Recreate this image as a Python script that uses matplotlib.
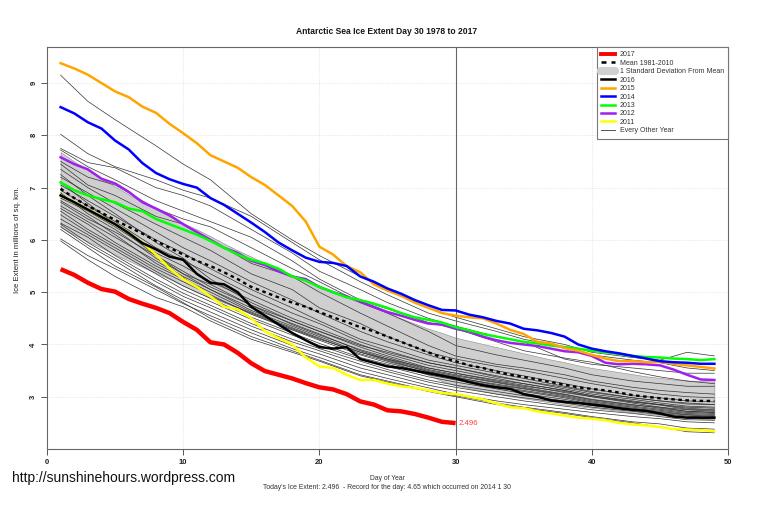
import matplotlib
matplotlib.use("Agg")
import matplotlib.pyplot as plt
from matplotlib.lines import Line2D

plt.rcParams['font.family'] = ['Liberation Sans', 'DejaVu Sans']

title = "Antarctic Sea Ice Extent Day 30 1978 to 2017"
footer = "Today's Ice Extent: 2.496  - Record for the day: 4.65 which occurred on 2014 1 30"
watermark = "http://sunshinehours.wordpress.com"
x_ticks = [0, 10, 20, 30, 40, 50]
y_ticks = [3, 4, 5, 6, 7, 8, 9]

ice_2017 = [5.44, 5.33, 5.18, 5.06, 5.01, 4.87, 4.78, 4.70, 4.60, 4.43, 4.28, 4.04, 4.00, 3.84, 3.64,
            3.49, 3.42, 3.35, 3.26, 3.18, 3.14, 3.05, 2.91, 2.85, 2.74, 2.72, 2.67, 2.60, 2.52, 2.496]
ice_2016 = [6.85, 6.72, 6.58, 6.44, 6.30, 6.13, 5.94, 5.82, 5.68, 5.62, 5.35, 5.18, 5.15, 5.00, 4.72, 4.55, 4.38,
            4.22, 4.08, 3.95, 3.92, 3.95, 3.72, 3.65, 3.58, 3.55, 3.50, 3.45, 3.40, 3.35, 3.28, 3.22, 3.18,
            3.15, 3.05, 3.00, 2.93, 2.90, 2.88, 2.85, 2.82, 2.78, 2.75, 2.73, 2.68, 2.62, 2.60, 2.60, 2.60][:49]
ice_2015 = [9.38, 9.28, 9.16, 9.00, 8.84, 8.73, 8.55, 8.43, 8.22, 8.04, 7.85, 7.62, 7.50, 7.38, 7.20, 7.05,
            6.85, 6.65, 6.35, 5.87, 5.72, 5.50, 5.38, 5.15, 5.03, 4.93, 4.80, 4.70, 4.60, 4.55, 4.52, 4.50,
            4.40, 4.28, 4.20, 4.05, 4.02, 3.93, 3.88, 3.80, 3.73, 3.68, 3.68, 3.66, 3.67, 3.63, 3.60, 3.57, 3.54]
ice_2014 = [8.54, 8.42, 8.25, 8.13, 7.90, 7.73, 7.47, 7.28, 7.16, 7.07, 7.00, 6.80, 6.67, 6.50, 6.33, 6.15,
            5.95, 5.80, 5.66, 5.58, 5.56, 5.50, 5.30, 5.20, 5.07, 4.97, 4.85, 4.75, 4.66, 4.65, 4.57, 4.52,
            4.45, 4.40, 4.30, 4.27, 4.22, 4.15, 4.00, 3.92, 3.87, 3.83, 3.78, 3.73, 3.68, 3.66, 3.65, 3.63, 3.63]
ice_2013 = [7.10, 6.95, 6.85, 6.78, 6.72, 6.60, 6.55, 6.40, 6.30, 6.20, 6.10, 5.98, 5.85, 5.72, 5.62, 5.55,
            5.45, 5.30, 5.22, 5.10, 5.00, 4.90, 4.85, 4.78, 4.70, 4.60, 4.52, 4.47, 4.42, 4.33, 4.27, 4.20,
            4.15, 4.10, 4.05, 4.02, 3.98, 3.95, 3.92, 3.88, 3.85, 3.82, 3.78, 3.76, 3.75, 3.73, 3.72, 3.70, 3.72]
ice_2012 = [7.58, 7.45, 7.35, 7.17, 7.08, 6.92, 6.72, 6.60, 6.47, 6.30, 6.15, 6.00, 5.85, 5.75, 5.60, 5.52,
            5.40, 5.30, 5.25, 5.10, 5.00, 4.92, 4.82, 4.72, 4.62, 4.55, 4.47, 4.40, 4.38, 4.30, 4.25, 4.15,
            4.08, 4.03, 4.00, 3.97, 3.92, 3.87, 3.85, 3.78, 3.65, 3.62, 3.63, 3.62, 3.60, 3.52, 3.42, 3.33, 3.32]
ice_2011 = [6.85, 6.72, 6.58, 6.44, 6.30, 6.13, 5.95, 5.72, 5.45, 5.25, 5.10, 4.92, 4.72, 4.67, 4.50, 4.25,
            4.12, 4.00, 3.75, 3.58, 3.55, 3.42, 3.32, 3.32, 3.25, 3.20, 3.17, 3.12, 3.07, 3.05, 3.00, 2.95,
            2.87, 2.80, 2.78, 2.72, 2.68, 2.64, 2.60, 2.58, 2.55, 2.50, 2.47, 2.45, 2.42, 2.38, 2.37, 2.36, 2.34]
mean_ice = [6.98, 6.80, 6.65, 6.52, 6.38, 6.25, 6.12, 5.98, 5.85, 5.72, 5.60, 5.50, 5.38, 5.25, 5.10, 5.00,
            4.90, 4.80, 4.72, 4.62, 4.52, 4.43, 4.33, 4.25, 4.15, 4.05, 3.95, 3.85, 3.75, 3.68, 3.60, 3.55,
            3.48, 3.42, 3.38, 3.33, 3.28, 3.23, 3.18, 3.15, 3.12, 3.08, 3.03, 3.00, 2.97, 2.95, 2.93, 2.92, 2.92]
sd_upper = [7.68, 7.50, 7.33, 7.17, 7.02, 6.87, 6.72, 6.58, 6.45, 6.32, 6.20, 6.07, 5.93, 5.80, 5.68, 5.55,
            5.45, 5.33, 5.22, 5.10, 5.00, 4.90, 4.80, 4.70, 4.60, 4.50, 4.40, 4.30, 4.22, 4.13, 4.07, 4.01,
            3.95, 3.89, 3.83, 3.77, 3.71, 3.66, 3.60, 3.55, 3.51, 3.47, 3.43, 3.39, 3.36, 3.33, 3.31, 3.30, 3.29]
sd_lower = [6.25, 6.10, 5.97, 5.85, 5.72, 5.60, 5.48, 5.37, 5.25, 5.12, 5.00, 4.90, 4.80, 4.70, 4.58, 4.48,
            4.38, 4.28, 4.20, 4.12, 4.03, 3.95, 3.87, 3.78, 3.68, 3.60, 3.50, 3.42, 3.30, 3.22, 3.16, 3.11,
            3.06, 3.01, 2.97, 2.93, 2.89, 2.85, 2.82, 2.79, 2.76, 2.73, 2.70, 2.68, 2.65, 2.62, 2.60, 2.58, 2.56]

other_days = [1, 3, 5, 8, 10, 12, 15, 18, 20, 23, 25, 28, 30, 33, 35, 38, 40, 43, 45, 47, 49]
other_years = [
    [9.15, 8.65, 8.30, 7.80, 7.45, 7.15, 6.50, 6.00, 5.70, 5.30, 5.05, 4.70, 4.52, 4.30, 4.15, 4.00, 3.85, 3.75, 3.70, 3.85, 3.78],
    [8.02, 7.65, 7.40, 7.15, 6.95, 6.80, 6.45, 5.95, 5.62, 5.20, 4.95, 4.60, 4.45, 4.25, 4.10, 3.95, 3.80, 3.70, 3.65, 3.55, 3.50],
    [7.75, 7.48, 7.38, 7.00, 6.85, 6.65, 6.20, 5.75, 5.40, 5.05, 4.80, 4.50, 4.35, 4.15, 4.05, 3.72, 3.62, 3.55, 3.50, 3.45, 3.45],
    [7.72, 7.40, 7.15, 6.75, 6.55, 6.35, 6.05, 5.60, 5.25, 4.85, 4.68, 4.42, 4.30, 4.05, 3.88, 3.74, 3.66, 3.48, 3.38, 3.30, 3.25],
    [7.50, 7.20, 7.05, 6.60, 6.40, 6.25, 5.85, 5.45, 5.20, 4.80, 4.60, 4.25, 3.98, 3.80, 3.70, 3.55, 3.42, 3.30, 3.25, 3.20, 3.20],
    [7.45, 7.05, 6.85, 6.45, 6.30, 6.00, 5.55, 5.30, 5.00, 4.60, 4.35, 3.98, 3.78, 3.62, 3.55, 3.42, 3.30, 3.18, 3.12, 3.08, 3.05],
    [7.35, 7.00, 6.70, 6.30, 6.05, 5.80, 5.35, 5.05, 4.70, 4.40, 4.15, 3.85, 3.72, 3.58, 3.50, 3.35, 3.25, 3.12, 3.05, 3.00, 2.98],
    [7.20, 6.90, 6.60, 6.15, 5.85, 5.60, 5.20, 4.85, 4.60, 4.25, 4.05, 3.80, 3.65, 3.50, 3.40, 3.25, 3.15, 3.02, 2.98, 2.92, 2.90],
    [7.05, 6.75, 6.45, 6.00, 5.75, 5.45, 5.05, 4.70, 4.45, 4.10, 3.95, 3.70, 3.60, 3.45, 3.35, 3.20, 3.10, 2.98, 2.92, 2.86, 2.85],
    [6.95, 6.65, 6.35, 5.85, 5.60, 5.35, 4.95, 4.60, 4.40, 4.05, 3.88, 3.65, 3.55, 3.40, 3.30, 3.15, 3.05, 2.95, 2.88, 2.82, 2.80],
    [6.80, 6.55, 6.25, 5.75, 5.50, 5.20, 4.85, 4.50, 4.30, 4.00, 3.82, 3.60, 3.50, 3.35, 3.25, 3.12, 3.02, 2.90, 2.85, 2.78, 2.75],
    [6.72, 6.40, 6.15, 5.70, 5.40, 5.10, 4.75, 4.45, 4.25, 3.95, 3.78, 3.55, 3.45, 3.30, 3.22, 3.08, 3.00, 2.88, 2.80, 2.75, 2.72],
    [6.65, 6.35, 6.05, 5.60, 5.30, 5.05, 4.70, 4.40, 4.20, 3.88, 3.72, 3.50, 3.40, 3.27, 3.18, 3.05, 2.95, 2.85, 2.78, 2.72, 2.70],
    [6.60, 6.30, 5.95, 5.50, 5.25, 5.00, 4.62, 4.32, 4.12, 3.82, 3.68, 3.48, 3.38, 3.22, 3.15, 3.02, 2.92, 2.82, 2.76, 2.70, 2.68],
    [6.55, 6.20, 5.90, 5.45, 5.20, 4.95, 4.58, 4.28, 4.08, 3.80, 3.65, 3.45, 3.35, 3.20, 3.12, 3.00, 2.90, 2.80, 2.74, 2.68, 2.66],
    [6.48, 6.15, 5.85, 5.40, 5.12, 4.88, 4.52, 4.22, 4.02, 3.75, 3.62, 3.42, 3.32, 3.18, 3.10, 2.98, 2.88, 2.78, 2.72, 2.66, 2.64],
    [6.40, 6.10, 5.80, 5.35, 5.05, 4.82, 4.48, 4.18, 3.98, 3.72, 3.58, 3.38, 3.28, 3.15, 3.06, 2.95, 2.86, 2.76, 2.70, 2.65, 2.62],
    [6.32, 6.05, 5.70, 5.25, 4.98, 4.75, 4.40, 4.10, 3.92, 3.68, 3.52, 3.32, 3.22, 3.10, 3.02, 2.92, 2.83, 2.74, 2.68, 2.63, 2.60],
    [6.30, 5.95, 5.65, 5.20, 4.92, 4.70, 4.35, 4.05, 3.88, 3.62, 3.48, 3.28, 3.18, 3.05, 2.98, 2.88, 2.80, 2.72, 2.66, 2.60, 2.58],
    [6.25, 5.90, 5.60, 5.12, 4.85, 4.62, 4.28, 3.98, 3.82, 3.55, 3.42, 3.22, 3.12, 3.00, 2.92, 2.82, 2.75, 2.68, 2.62, 2.56, 2.55],
    [6.02, 5.70, 5.45, 5.05, 4.78, 4.55, 4.22, 3.92, 3.75, 3.48, 3.35, 3.17, 3.05, 2.92, 2.85, 2.76, 2.70, 2.62, 2.58, 2.52, 2.50],
    [5.98, 5.62, 5.30, 4.90, 4.72, 4.45, 4.10, 3.85, 3.68, 3.40, 3.28, 3.10, 3.00, 2.85, 2.78, 2.68, 2.60, 2.50, 2.42, 2.33, 2.31],
    [6.20, 5.85, 5.50, 5.10, 4.80, 4.50, 4.15, 3.88, 3.70, 3.42, 3.30, 3.12, 3.02, 2.88, 2.80, 2.70, 2.62, 2.52, 2.48, 2.40, 2.38],
    [7.10, 6.70, 6.30, 5.70, 5.35, 5.05, 4.65, 4.35, 4.15, 3.85, 3.72, 3.55, 3.45, 3.32, 3.25, 3.12, 3.02, 2.92, 2.85, 2.80, 2.78],
    [7.25, 6.85, 6.50, 5.95, 5.65, 5.25, 4.80, 4.45, 4.25, 3.98, 3.85, 3.65, 3.55, 3.38, 3.30, 3.18, 3.08, 2.98, 2.92, 2.88, 2.85],
    [6.90, 6.50, 6.20, 5.65, 5.35, 5.15, 4.75, 4.38, 4.18, 3.90, 3.75, 3.52, 3.42, 3.28, 3.20, 3.10, 3.00, 2.90, 2.84, 2.76, 2.74],
    [6.75, 6.45, 6.10, 5.55, 5.28, 4.92, 4.60, 4.30, 4.10, 3.85, 3.70, 3.48, 3.36, 3.24, 3.16, 3.04, 2.94, 2.84, 2.80, 2.72, 2.70],
]

days = list(range(1, 50))

fig = plt.figure(figsize=(7.59, 5.05), dpi=100)
ax = fig.add_axes([47 / 759, 1 - 449 / 505, (728 - 47) / 759, (449 - 47) / 505])
ax.set_xlim(0, 50)
ax.set_ylim(2.0, 9.69)

ax.set_axisbelow(True)
ax.grid(True, color='#dcdcdc', linestyle=':', linewidth=0.6)
ax.fill_between(days, sd_lower, sd_upper, facecolor='#cfcfcf', edgecolor='#8a8a8a', linewidth=0.4, zorder=1)
for values in other_years:
    ax.plot(other_days, values, color='#333333', linewidth=0.5, zorder=2)

ax.axvline(30, color='#666666', linewidth=0.8, zorder=3)
ax.plot(days, mean_ice, color='black', linewidth=1.7, linestyle=(0, (1.5, 1.5)), zorder=4)
ax.plot(days, ice_2011, color='#ffff00', linewidth=1.8, zorder=5)
ax.plot(days, ice_2016, color='black', linewidth=1.8, zorder=6)
ax.plot(days, ice_2012, color='#a020f0', linewidth=1.8, zorder=7)
ax.plot(days, ice_2013, color='#00ff00', linewidth=1.8, zorder=8)
ax.plot(days, ice_2015, color='#ffa500', linewidth=1.8, zorder=9)
ax.plot(days, ice_2014, color='#0000ff', linewidth=1.8, zorder=10)
ax.plot(days[:len(ice_2017)], ice_2017, color='#ff0000', linewidth=3.2, zorder=11, solid_capstyle='butt')
ax.text(30.25, ice_2017[-1], str(ice_2017[-1]), color='#ff4040', fontsize=5.6, va='center', zorder=12)

ax.set_xticks(x_ticks)
ax.set_yticks(y_ticks)
ax.tick_params(axis='both', length=4, width=0.7, color='#555555', labelsize=5.5, pad=3, labelcolor='#202020')
for lab in ax.get_xticklabels() + ax.get_yticklabels():
    lab.set_fontweight('bold')
for lab in ax.get_yticklabels():
    lab.set_rotation(90)
    lab.set_va('center')
for s in ax.spines.values():
    s.set_color('#666666')
    s.set_linewidth(0.8)

handles = [
    Line2D([], [], color='#ff0000', lw=2.8),
    Line2D([], [], color='black', lw=1.8, linestyle=(0, (2, 2))),
    Line2D([], [], color='#d0d0d0', lw=6, solid_capstyle='round'),
    Line2D([], [], color='black', lw=1.8),
    Line2D([], [], color='#ffa500', lw=1.8),
    Line2D([], [], color='#0000ff', lw=1.8),
    Line2D([], [], color='#00ff00', lw=1.8),
    Line2D([], [], color='#a020f0', lw=1.8),
    Line2D([], [], color='#ffff00', lw=1.8),
    Line2D([], [], color='#555555', lw=0.7),
]
labels = ["2017", "Mean 1981-2010", "1 Standard Deviation From Mean", "2016", "2015", "2014",
          "2013", "2012", "2011", "Every Other Year"]
leg = ax.legend(handles, labels, loc='upper right', bbox_to_anchor=(1, 1), borderaxespad=0, fontsize=5.0,
                fancybox=False, framealpha=1, edgecolor='#777777', handlelength=2.0, handletextpad=0.6,
                labelspacing=0.21, borderpad=0.61, labelcolor='#333333')
leg.set_zorder(20)
leg.get_frame().set_linewidth(0.8)

fig.text(387 / 759, 1 - 31 / 505, title, ha='center', va='center', fontsize=6.15, fontweight='bold', color='#151515')
fig.text(18 / 759, 1 - 240 / 505, "Ice Extent in millions of sq. km.", rotation=90, ha='center', va='center',
         fontsize=5.6, color='#222222')
fig.text(387 / 759, 1 - 479 / 505, "Day of Year", ha='center', va='center', fontsize=4.9, color='#333333')
fig.text(387 / 759, 1 - 487.5 / 505, footer, ha='center', va='center', fontsize=4.95, color='#333333')
fig.text(12 / 759, 1 - 478 / 505, watermark, ha='left', va='center', fontsize=10.0, color='#111111')

fig.savefig("out.png", dpi=100)
